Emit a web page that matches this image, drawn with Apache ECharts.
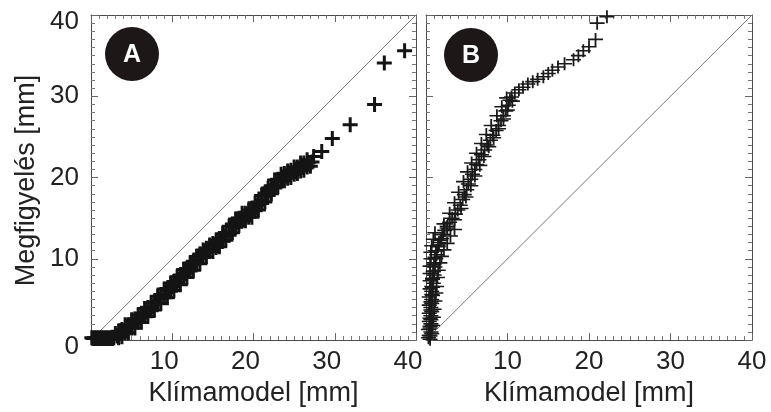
<!DOCTYPE html>
<html>
<head>
<meta charset="utf-8">
<script src="https://cdn.jsdelivr.net/npm/echarts@6/dist/echarts.min.js"></script>
<style>
  html, body { margin: 0; background: #fff; }
  #main { width: 771px; height: 412px; }
</style>
</head>
<body>
<div id="main"></div>
<script>
// panel A: climate model vs observation (mm), centre of the band
const aModel = [0.1, 0.4, 0.7, 1.0, 1.3, 1.6, 1.9, 2.2, 2.5, 2.8,
  3.2, 3.6, 4.0, 4.5, 5.0, 5.5, 6.0, 6.5, 7.0, 7.5,
  8.0, 8.5, 9.0, 9.5, 10.0, 10.5, 11.0, 11.5, 12.0, 12.5,
  13.0, 13.5, 14.0, 14.5, 15.0, 15.5, 16.0, 16.5, 17.0, 17.5,
  18.0, 18.5, 19.0, 19.5, 20.0, 20.5, 21.0, 21.5, 22.0, 22.5,
  23.0, 23.5, 24.0, 24.5, 25.1, 25.6, 26.1, 26.7, 27.2, 27.4,
  28.4, 29.7, 31.9, 34.9, 36.1, 38.6]
const aObs = [0.3, 0.3, 0.3, 0.3, 0.3, 0.3, 0.3, 0.3, 0.3, 0.3,
  0.5, 0.8, 1.1, 1.5, 1.9, 2.3, 2.7, 3.2, 3.6, 4.1,
  4.6, 5.1, 5.6, 6.1, 6.6, 7.1, 7.6, 8.2, 8.7, 9.3,
  9.8, 10.3, 10.8, 11.2, 11.5, 11.9, 12.3, 12.8, 13.3, 14.0,
  14.5, 15.0, 15.2, 15.5, 16.0, 16.6, 17.2, 17.8, 18.4, 19.0,
  19.5, 19.9, 20.2, 20.5, 20.8, 21.1, 21.4, 21.8, 21.9, 22.6,
  23.2, 24.8, 26.5, 29.0, 34.1, 35.6]
const aBaseModel = [0.25, 0.55, 0.85, 1.15, 1.45, 1.75, 2.05, 2.35, 2.65]
const aBaseObs = [0.2, 0.2, 0.2, 0.2, 0.2, 0.2, 0.2, 0.2, 0.2]
// upper and lower side of the band
const aUpModel = [3.4, 4.2, 5.0, 5.8, 6.6, 7.4, 8.2, 9.0, 9.8, 10.6,
  11.4, 12.2, 13.0, 13.8, 14.6, 15.4, 16.2, 17.0, 17.8, 18.6,
  19.4, 20.2, 21.0, 21.8, 22.6, 23.4, 24.2, 25.0, 25.8, 26.6]
const aUpObs = [1.1, 1.9, 2.5, 3.1, 3.9, 4.6, 5.4, 6.3, 7.0, 7.8,
  8.7, 9.5, 10.3, 11.1, 11.7, 12.3, 13.1, 14.0, 14.9, 15.6,
  16.0, 16.9, 17.8, 18.7, 19.7, 20.4, 20.8, 21.3, 21.8, 22.2]
const aLowModel = [3.8, 4.6, 5.4, 6.2, 7.0, 7.8, 8.6, 9.4, 10.2, 11.0,
  11.8, 12.6, 13.4, 14.2, 15.0, 15.8, 16.6, 17.4, 18.2, 19.0,
  19.8, 20.6, 21.4, 22.2, 23.0, 23.8, 24.6, 25.4, 26.2, 27.0]
const aLowObs = [0.4, 0.9, 1.5, 2.2, 2.9, 3.7, 4.5, 5.2, 6.1, 6.8,
  7.7, 8.6, 9.4, 10.3, 10.9, 11.5, 12.3, 13.2, 14.1, 14.7,
  15.1, 16.0, 17.0, 18.0, 18.9, 19.6, 20.0, 20.5, 20.9, 21.4]
const aF1Model = [3.0, 3.8, 4.6, 5.4, 6.2, 7.0, 7.8, 8.6, 9.4, 10.2,
  11.0, 11.8, 12.6, 13.4, 14.2, 15.0, 15.8, 16.6, 17.4, 18.2,
  19.0, 19.8, 20.6, 21.4, 22.2, 23.0, 23.8, 24.6, 25.4, 26.2]
const aF1Obs = [0.8, 1.3, 1.9, 2.6, 3.3, 4.0, 4.7, 5.6, 6.3, 7.2,
  8.0, 8.8, 9.7, 10.6, 11.3, 11.9, 12.5, 13.2, 14.3, 15.0,
  15.6, 16.2, 17.0, 18.1, 19.0, 19.8, 20.5, 20.9, 21.3, 21.8]
const aF2Model = [3.4, 4.2, 5.0, 5.8, 6.6, 7.4, 8.2, 9.0, 9.8, 10.6,
  11.4, 12.2, 13.0, 13.8, 14.6, 15.4, 16.2, 17.0, 17.8, 18.6,
  19.4, 20.2, 21.0, 21.8, 22.6, 23.4, 24.2, 25.0, 25.8, 26.6]
const aF2Obs = [0.3, 0.9, 1.5, 2.2, 2.9, 3.6, 4.5, 5.2, 6.0, 6.9,
  7.7, 8.5, 9.5, 10.2, 10.9, 11.4, 12.2, 12.9, 13.9, 14.7,
  15.1, 15.9, 16.8, 17.8, 18.7, 19.5, 19.9, 20.4, 20.8, 21.3]

// panel B, centre of the band
const bModel = [0.5, 0.5, 0.6, 0.5, 0.6, 0.6, 0.6, 0.7, 0.6, 0.7,
  0.7, 0.8, 0.7, 0.8, 0.9, 0.8, 1.0, 0.9, 1.1, 1.0,
  1.2, 1.3, 1.2, 1.5, 1.6, 1.9, 2.0, 2.3, 2.6, 2.9,
  3.2, 3.6, 3.9, 4.2, 4.5, 4.7, 5.0, 5.2, 5.5, 5.7,
  6.0, 6.2, 6.5, 6.8, 7.2, 7.5, 7.9, 8.2, 8.6, 8.9,
  9.2, 9.5, 9.8, 10.1, 10.3, 10.5, 10.9, 11.4, 11.9, 12.5,
  13.1, 13.7, 14.4, 15.0, 15.5, 16.2, 17.0, 18.1, 18.7, 19.3,
  20.0, 20.8, 21.0, 22.2]
const bObs = [0.1, 0.5, 1.0, 1.5, 2.0, 2.5, 3.0, 3.5, 4.0, 4.5,
  5.0, 5.5, 6.0, 6.5, 7.0, 7.5, 8.0, 8.5, 9.0, 9.5,
  10.0, 10.5, 11.0, 11.5, 12.0, 12.5, 13.0, 13.5, 14.0, 14.5,
  15.0, 15.5, 16.0, 16.6, 17.3, 17.9, 18.5, 19.2, 19.8, 20.4,
  21.0, 21.6, 22.2, 22.8, 23.4, 24.0, 24.6, 25.2, 25.8, 26.4,
  27.0, 27.6, 28.2, 28.9, 29.5, 29.9, 30.4, 30.8, 31.1, 31.5,
  31.8, 32.1, 32.4, 32.8, 33.2, 33.6, 34.0, 34.5, 35.0, 35.6,
  36.1, 37.0, 39.0, 39.8]
// sides of the dense lower part
const bLeftModel = [0.3, 0.3, 0.4, 0.4, 0.4, 0.4, 0.5, 0.5, 0.5, 0.5, 0.6, 0.6, 0.7, 0.9, 1.1]
const bLeftObs = [0.3, 1.3, 2.3, 3.3, 4.3, 5.3, 6.3, 7.3, 8.2, 9.1, 10.0, 10.8, 11.6, 12.4, 13.2]
const bRightModel = [0.7, 0.8, 0.9, 1.0, 1.1, 1.2, 1.3, 1.4, 1.5, 1.7, 1.9, 2.2, 2.6, 3.0, 3.5]
const bRightObs = [0.8, 1.8, 2.8, 3.8, 4.8, 5.8, 6.6, 7.7, 8.6, 9.5, 10.3, 11.1, 11.9, 12.8, 13.6]
const bFillModel = [0.4, 0.5, 0.5, 0.6, 0.6, 0.7, 0.7, 0.8, 0.9, 1.0, 1.1, 1.3, 1.5, 1.8, 2.1, 2.6]
const bFillObs = [0.6, 1.7, 2.7, 3.7, 4.7, 5.6, 6.6, 7.6, 8.4, 9.3, 10.2, 11.0, 11.7, 12.3, 13.0, 13.8]
// sides of the middle part
const bMidRModel = [3.5, 4.3, 4.9, 5.5, 6.0, 6.6, 7.1, 7.7, 8.3, 8.9, 9.5, 10.0, 10.6]
const bMidRObs = [14.8, 16.2, 17.6, 19.0, 20.2, 21.5, 22.6, 23.8, 24.9, 26.0, 27.2, 28.3, 29.4]
const bMidLModel = [2.2, 2.9, 3.5, 4.0, 4.6, 5.1, 5.6, 6.2, 6.8, 7.4, 8.0, 8.7, 9.3, 9.9]
const bMidLObs = [14.3, 15.6, 16.9, 18.2, 19.5, 20.7, 21.8, 23.0, 24.2, 25.3, 26.4, 27.6, 28.7, 29.8]

const diag = [0, 40]
const axisMin = 0
const axisMax = 40
const axisStep = 10

const FONT = 'Liberation Sans'
const TICK_SIZE = 26
const plusBold = 'path://M8,0h4v8h8v4h-8v8h-4v-8h-8v-4h8z'
const plusThin = 'path://M8.8,0h2.4v8.8h8.8v2.4h-8.8v8.8h-2.4v-8.8h-8.8v-2.4h8.8z'

function pairs (xs, ys) {
  return xs.map(function (x, i) { return [x, ys[i]] })
}

function frameAxis (gi, pos) {
  return {
    type: 'value',
    gridIndex: gi,
    position: pos,
    min: axisMin,
    max: axisMax,
    interval: axisStep,
    axisLine: { show: true, onZero: false, lineStyle: { color: '#4a4a4a', width: 1 } },
    axisTick: { show: true, inside: true, length: 7, lineStyle: { color: '#666' } },
    minorTick: { show: true, splitNumber: 10, length: 4, lineStyle: { color: '#777' } },
    splitLine: { show: false },
    axisLabel: { show: false }
  }
}

function bottomAxis (gi, shiftLeft) {
  const ax = frameAxis(gi, 'bottom')
  ax.axisLabel = {
    show: true,
    showMinLabel: false,
    margin: 9,
    color: '#222',
    fontFamily: FONT,
    fontSize: TICK_SIZE,
    formatter: function (v) {
      return shiftLeft ? '{s|' + v + '}' : String(v)
    },
    rich: { s: { fontFamily: FONT, fontSize: TICK_SIZE, color: '#222', padding: [0, 16, 0, 0] } }
  }
  ax.name = 'Klímamodel [mm]'
  ax.nameLocation = 'middle'
  ax.nameGap = 33
  ax.nameTextStyle = { color: '#222', fontFamily: FONT, fontSize: 27 }
  return ax
}

const yLeftA = frameAxis(0, 'left')
yLeftA.axisLabel = {
  show: true,
  margin: 12,
  color: '#222',
  fontFamily: FONT,
  fontSize: TICK_SIZE,
  formatter: function (v) {
    return (v === axisMin || v === axisMax) ? '{d|' + v + '}' : String(v)
  },
  rich: { d: { fontFamily: FONT, fontSize: TICK_SIZE, color: '#222', padding: [14, 0, 0, 0] } }
}
yLeftA.name = 'Megfigyelés [mm]'
yLeftA.nameLocation = 'middle'
yLeftA.nameGap = 51
yLeftA.nameTextStyle = { color: '#222', fontFamily: FONT, fontSize: 27, padding: [0, 6, 0, 0] }

const dataA = pairs(aModel, aObs).concat(pairs(aBaseModel, aBaseObs), pairs(aUpModel, aUpObs),
  pairs(aLowModel, aLowObs), pairs(aF1Model, aF1Obs), pairs(aF2Model, aF2Obs))
const dataB = pairs(bModel, bObs).concat(pairs(bLeftModel, bLeftObs), pairs(bRightModel, bRightObs),
  pairs(bFillModel, bFillObs), pairs(bMidRModel, bMidRObs), pairs(bMidLModel, bMidLObs))

const myChart = echarts.init(document.getElementById('main'))
myChart.setOption({
  animation: false,
  backgroundColor: '#fff',
  grid: [
    { left: 91, top: 15, width: 325, height: 337 },
    { left: 426, top: 15, width: 326, height: 337 }
  ],
  xAxis: [bottomAxis(0, true), frameAxis(0, 'top'), bottomAxis(1, false), frameAxis(1, 'top')],
  yAxis: [yLeftA, frameAxis(0, 'right'), frameAxis(1, 'left'), frameAxis(1, 'right')],
  series: [
    {
      type: 'line', xAxisIndex: 0, yAxisIndex: 0, data: pairs(diag, diag),
      symbol: 'none', lineStyle: { color: '#777', width: 1 }, z: 1
    },
    {
      type: 'scatter', xAxisIndex: 0, yAxisIndex: 0, data: dataA,
      symbol: plusBold, symbolSize: 15, itemStyle: { color: '#141414', opacity: 1 }, z: 2
    },
    {
      type: 'line', xAxisIndex: 2, yAxisIndex: 2, data: pairs(diag, diag),
      symbol: 'none', lineStyle: { color: '#777', width: 1 }, z: 1
    },
    {
      type: 'scatter', xAxisIndex: 2, yAxisIndex: 2, data: dataB,
      symbol: plusThin, symbolSize: [15, 13], itemStyle: { color: '#1a1a1a', opacity: 1 }, z: 2
    }
  ],
  graphic: [
    { type: 'circle', shape: { cx: 132, cy: 54, r: 27 }, style: { fill: '#1d1717' }, z: 10 },
    { type: 'text', x: 132, y: 55, style: { text: 'A', fill: '#fff', font: 'bold 25px "Liberation Sans"', align: 'center', verticalAlign: 'middle' }, z: 11 },
    { type: 'circle', shape: { cx: 471, cy: 55, r: 27 }, style: { fill: '#1d1717' }, z: 10 },
    { type: 'text', x: 471, y: 56, style: { text: 'B', fill: '#fff', font: 'bold 25px "Liberation Sans"', align: 'center', verticalAlign: 'middle' }, z: 11 }
  ]
})
</script>
</body>
</html>
